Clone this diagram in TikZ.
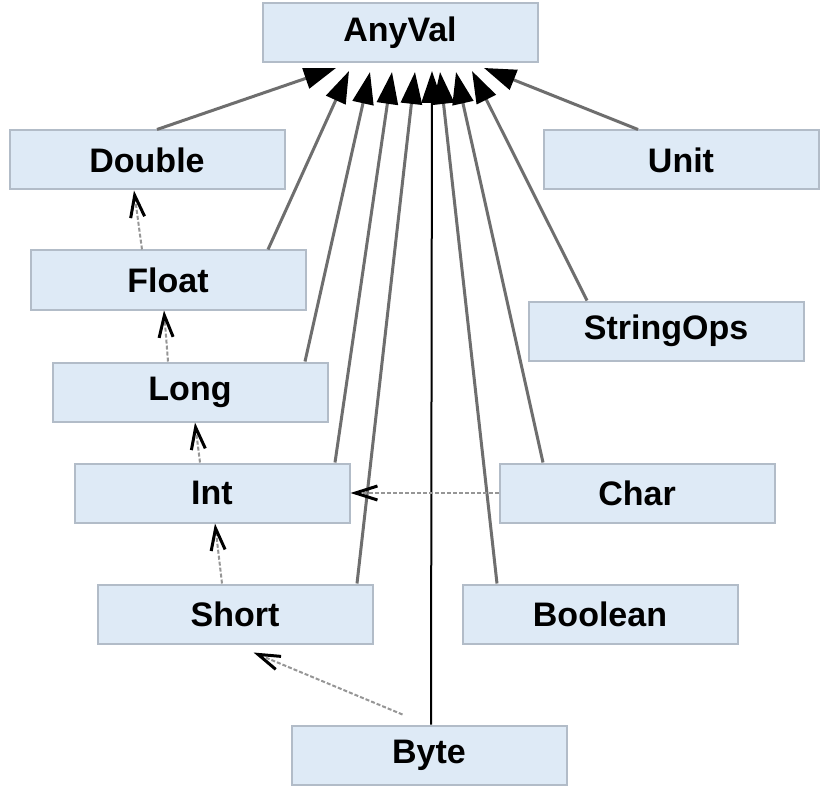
\documentclass[tikz,border=0pt]{standalone}
\usepackage{fontspec}
\setmainfont{Liberation Sans}
\usetikzlibrary{arrows.meta}
\definecolor{boxfill}{RGB}{222,234,246}
\definecolor{boxline}{RGB}{178,188,200}
\definecolor{linegray}{RGB}{110,110,110}
\definecolor{dashgray}{RGB}{150,150,150}
\tikzset{
  cls/.style={draw=boxline, fill=boxfill, line width=2pt, minimum width=275pt, minimum height=59pt, inner sep=0pt, font=\fontsize{34}{34}\selectfont\bfseries},
  inh/.style={draw=linegray, line width=3pt, -{Triangle[length=32pt,width=21pt,fill=black,color=black]}},
  conv/.style={draw=dashgray, line width=2pt, dash pattern=on 4pt off 2pt, -{Straight Barb[length=22pt,width=14pt,line width=3pt,color=black]}}
}
\begin{document}
\begin{tikzpicture}[x=1pt,y=-1pt]
\useasboundingbox (0,0) rectangle (832,794);
\fill[white] (0,0) rectangle (832,794);
\node[cls] (anyval) at (400,33) {AnyVal};
\node[cls] (double) at (147,160) {Double};
\node[cls] (unit) at (681,160) {Unit};
\node[cls] (float) at (168,280) {Float};
\node[cls] (stringops) at (666,331) {StringOps};
\node[cls] (long) at (190,392) {Long};
\node[cls] (int) at (212,493) {Int};
\node[cls] (char) at (637,493) {Char};
\node[cls] (short) at (235,614) {Short};
\node[cls] (boolean) at (600,614) {Boolean};
\node[cls] (byte) at (429,755) {Byte};
\coordinate (t1) at (336,68);
\coordinate (t2) at (349,71);
\coordinate (t3) at (370,72);
\coordinate (t4) at (392,72);
\coordinate (t5) at (415,72);
\coordinate (t6) at (432,71);
\coordinate (t7) at (440,72);
\coordinate (t8) at (456,72);
\coordinate (t9) at (472,71);
\coordinate (t10) at (484,68);
\draw[inh] (double.north -| 157,0) -- (t1);
\draw[inh] (float.north -| 268,0) -- (t2);
\draw[inh] (long.north -| 305,0) -- (t3);
\draw[inh] (int.north -| 335,0) -- (t4);
\draw[inh] (short.north -| 357,0) -- (t5);
\draw[inh, draw=black, line width=2pt] (byte.north -| 431,0) -- (t6);
\draw[inh] (boolean.north -| 497,0) -- (t7);
\draw[inh] (char.north -| 543,0) -- (t8);
\draw[inh] (stringops.north -| 587,0) -- (t9);
\draw[inh] (unit.north -| 638,0) -- (t10);
\draw[conv] (float.north -| 142,0) -- (double.south -| 134,0);
\draw[conv] (long.north -| 168,0) -- (float.south -| 164,0);
\draw[conv] (int.north -| 200,0) -- (long.south -| 195,0);
\draw[conv] (short.north -| 222,0) -- (int.south -| 215,0);
\draw[conv] ([shift={(112,-10)}]byte.north west) -- ([shift={(157,8)}]short.south west);
\draw[conv] (char.west) -- (int.east);
\end{tikzpicture}
\end{document}
